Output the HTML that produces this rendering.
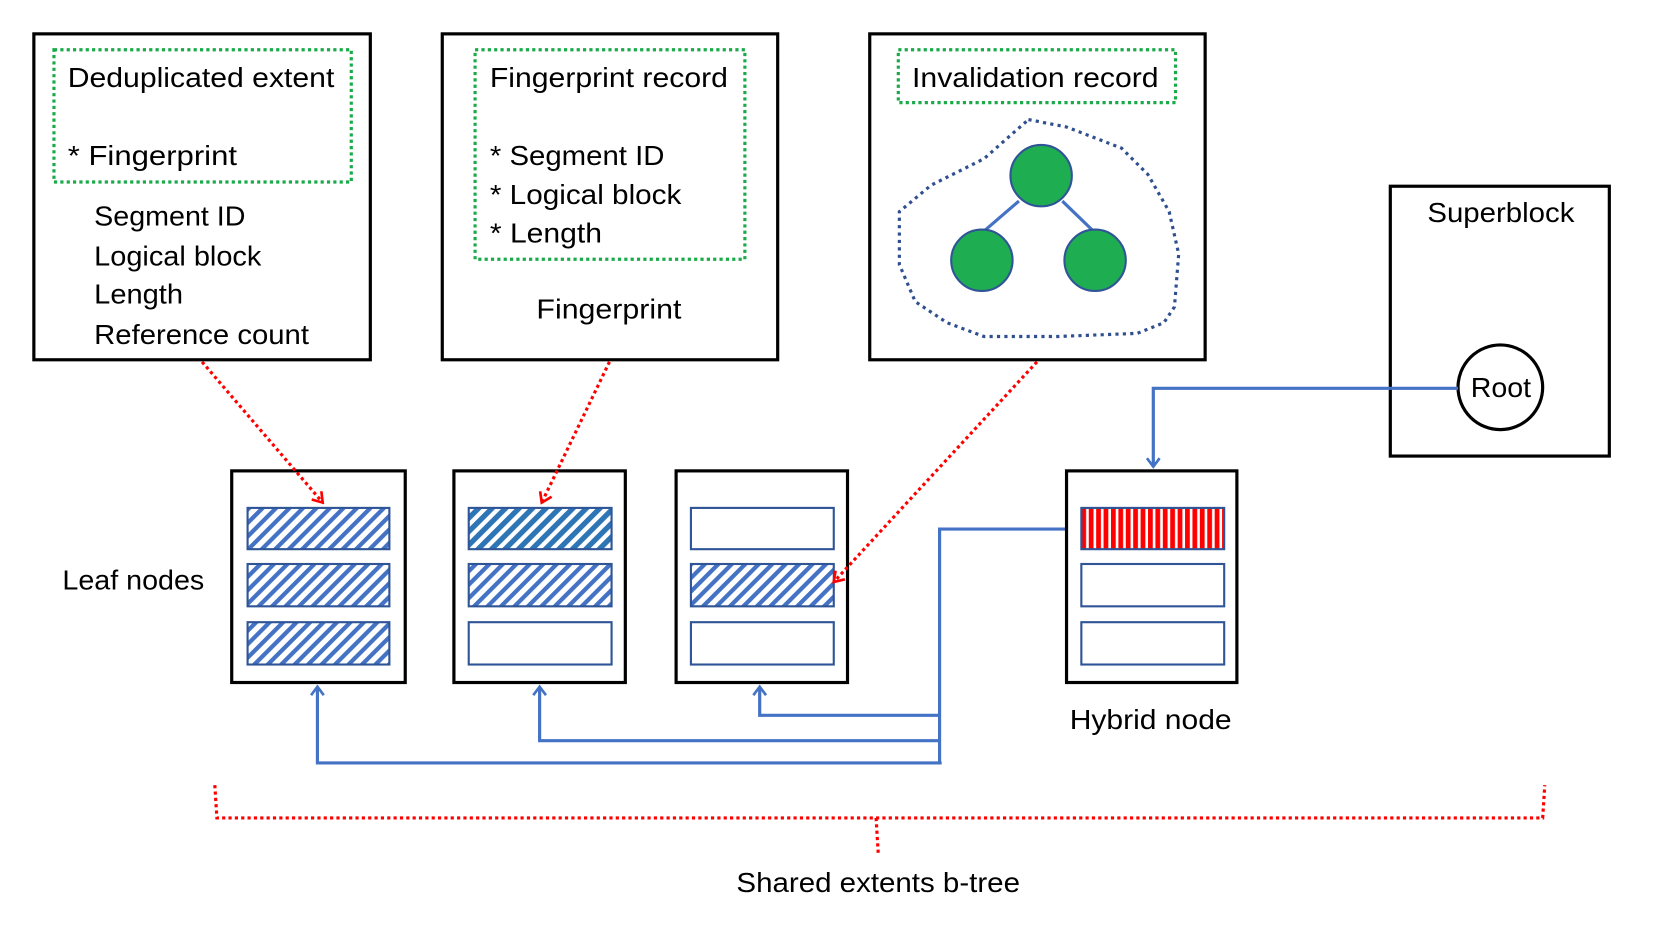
<!DOCTYPE html>
<html><head><meta charset="utf-8"><style>
html,body{margin:0;padding:0;background:#fff;}
svg{display:block;}
text{font-family:"Liberation Sans",sans-serif;font-size:26px;fill:#000;}
</style></head><body>
<svg width="1658" height="928" viewBox="0 0 1567 877" preserveAspectRatio="none" xmlns="http://www.w3.org/2000/svg">
<defs>
<pattern id="h" patternUnits="userSpaceOnUse" width="9" height="9" patternTransform="rotate(45)">
<rect width="9" height="9" fill="#fff"/><rect width="4" height="9" fill="#4472c4"/></pattern>
<pattern id="h2" patternUnits="userSpaceOnUse" width="9" height="9" patternTransform="rotate(45)">
<rect width="9" height="9" fill="#fff"/><rect width="5" height="9" fill="#2e75b6"/></pattern>
<pattern id="r" patternUnits="userSpaceOnUse" width="7" height="10">
<rect width="7" height="10" fill="#fff"/><rect width="4.5" height="10" fill="#ff0000"/></pattern>
<marker id="ab" markerWidth="14" markerHeight="14" refX="11" refY="7" orient="auto" markerUnits="userSpaceOnUse">
<path d="M3,1 L11,7 L3,13" fill="none" stroke="#4472c4" stroke-width="2.5"/></marker>
<marker id="ar" markerWidth="14" markerHeight="14" refX="12" refY="7" orient="auto" markerUnits="userSpaceOnUse">
<path d="M3,1 L12,7 L3,13" fill="none" stroke="#ff0000" stroke-width="2.5"/></marker>
</defs>

<g fill="none" stroke="#000" stroke-width="3">
<rect x="32" y="32" width="318" height="308"/>
<rect x="418" y="32" width="317" height="308"/>
<rect x="822" y="32" width="317" height="308"/>
<rect x="1314" y="176" width="207" height="255"/>
</g>
<g fill="none" stroke="#1aaa4a" stroke-width="3" stroke-dasharray="3,3">
<rect x="51" y="47" width="281" height="125"/>
<rect x="449" y="47" width="255" height="198"/>
<rect x="849" y="47" width="262" height="50"/>
</g>
<text x="64" y="82" textLength="252" lengthAdjust="spacingAndGlyphs">Deduplicated extent</text>
<text x="64" y="156" textLength="160" lengthAdjust="spacingAndGlyphs">* Fingerprint</text>
<text x="89" y="213" textLength="143" lengthAdjust="spacingAndGlyphs">Segment ID</text>
<text x="89" y="251" textLength="158" lengthAdjust="spacingAndGlyphs">Logical block</text>
<text x="89" y="287" textLength="84" lengthAdjust="spacingAndGlyphs">Length</text>
<text x="89" y="325" textLength="203" lengthAdjust="spacingAndGlyphs">Reference count</text>

<text x="463" y="82" textLength="225" lengthAdjust="spacingAndGlyphs">Fingerprint record</text>
<text x="463" y="156" textLength="165" lengthAdjust="spacingAndGlyphs">* Segment ID</text>
<text x="463" y="193" textLength="181" lengthAdjust="spacingAndGlyphs">* Logical block</text>
<text x="463" y="229" textLength="106" lengthAdjust="spacingAndGlyphs">* Length</text>
<text x="507" y="301" textLength="137" lengthAdjust="spacingAndGlyphs">Fingerprint</text>

<text x="862" y="82" textLength="233" lengthAdjust="spacingAndGlyphs">Invalidation record</text>
<path d="M972,113 L1008,120 L1060,140 L1085,165 L1105,200 L1114,240 L1110,290 L1100,305 L1075,315 L1000,318 L930,318 L895,305 L865,285 L850,250 L850,200 L880,175 L930,150 Z" fill="none" stroke="#2f4f8f" stroke-width="3" stroke-dasharray="3,4"/>
<line x1="963" y1="190" x2="927" y2="221" stroke="#4472c4" stroke-width="3"/>
<line x1="1004" y1="190" x2="1034" y2="219" stroke="#4472c4" stroke-width="3"/>
<g fill="#1fad52" stroke="#2f5597" stroke-width="2">
<circle cx="984" cy="166" r="29"/><circle cx="928" cy="246" r="29"/><circle cx="1035" cy="246" r="29"/>
</g>

<text x="1349" y="210" textLength="139" lengthAdjust="spacingAndGlyphs">Superblock</text>
<circle cx="1418" cy="366" r="40" fill="#fff" stroke="#000" stroke-width="3"/>
<text x="1390" y="375" textLength="57" lengthAdjust="spacingAndGlyphs">Root</text>

<g fill="none" stroke="#4472c4" stroke-width="3">
<path d="M1378,367 L1090,367 L1090,441" marker-end="url(#ab)"/>
<path d="M1022,500 L888,500 L888,721"/>
<path d="M888,676 L718,676 L718,649" marker-end="url(#ab)"/>
<path d="M888,700 L510,700 L510,649" marker-end="url(#ab)"/>
<path d="M890,721 L300,721 L300,649" marker-end="url(#ab)"/>
</g>

<g fill="#fff" stroke="#000" stroke-width="3">
<rect x="219" y="445" width="164" height="200"/>
<rect x="429" y="445" width="162" height="200"/>
<rect x="639" y="445" width="162" height="200"/>
<rect x="1008" y="445" width="161" height="200"/>
</g>
<g stroke="#2f5597" stroke-width="2">
<rect x="234" y="480" width="134" height="39" fill="url(#h)"/>
<rect x="234" y="533" width="134" height="40" fill="url(#h)"/>
<rect x="234" y="588" width="134" height="40" fill="url(#h)"/>
<rect x="443" y="480" width="135" height="39" fill="url(#h2)"/>
<rect x="443" y="533" width="135" height="40" fill="url(#h)"/>
<rect x="443" y="588" width="135" height="40" fill="#fff"/>
<rect x="653" y="480" width="135" height="39" fill="#fff"/>
<rect x="653" y="533" width="135" height="40" fill="url(#h)"/>
<rect x="653" y="588" width="135" height="40" fill="#fff"/>
<rect x="1022" y="480" width="135" height="39" fill="url(#r)"/>
<rect x="1022" y="533" width="135" height="40" fill="#fff"/>
<rect x="1022" y="588" width="135" height="40" fill="#fff"/>
</g>
<text x="59" y="557" textLength="134" lengthAdjust="spacingAndGlyphs">Leaf nodes</text>
<text x="1011" y="689" textLength="153" lengthAdjust="spacingAndGlyphs">Hybrid node</text>

<g fill="none" stroke="#ff0000" stroke-width="3" stroke-dasharray="3,3">
<path d="M191,342 L305,475" marker-end="url(#ar)"/>
<path d="M576,342 L512,475" marker-end="url(#ar)"/>
<path d="M980,342 L788,550" marker-end="url(#ar)"/>
<path d="M203,742 L205,773 L1458,773 L1460,742"/>
<path d="M828,773 L830,806"/>
</g>
<text x="696" y="843" textLength="268" lengthAdjust="spacingAndGlyphs">Shared extents b-tree</text>
</svg>
</body></html>
